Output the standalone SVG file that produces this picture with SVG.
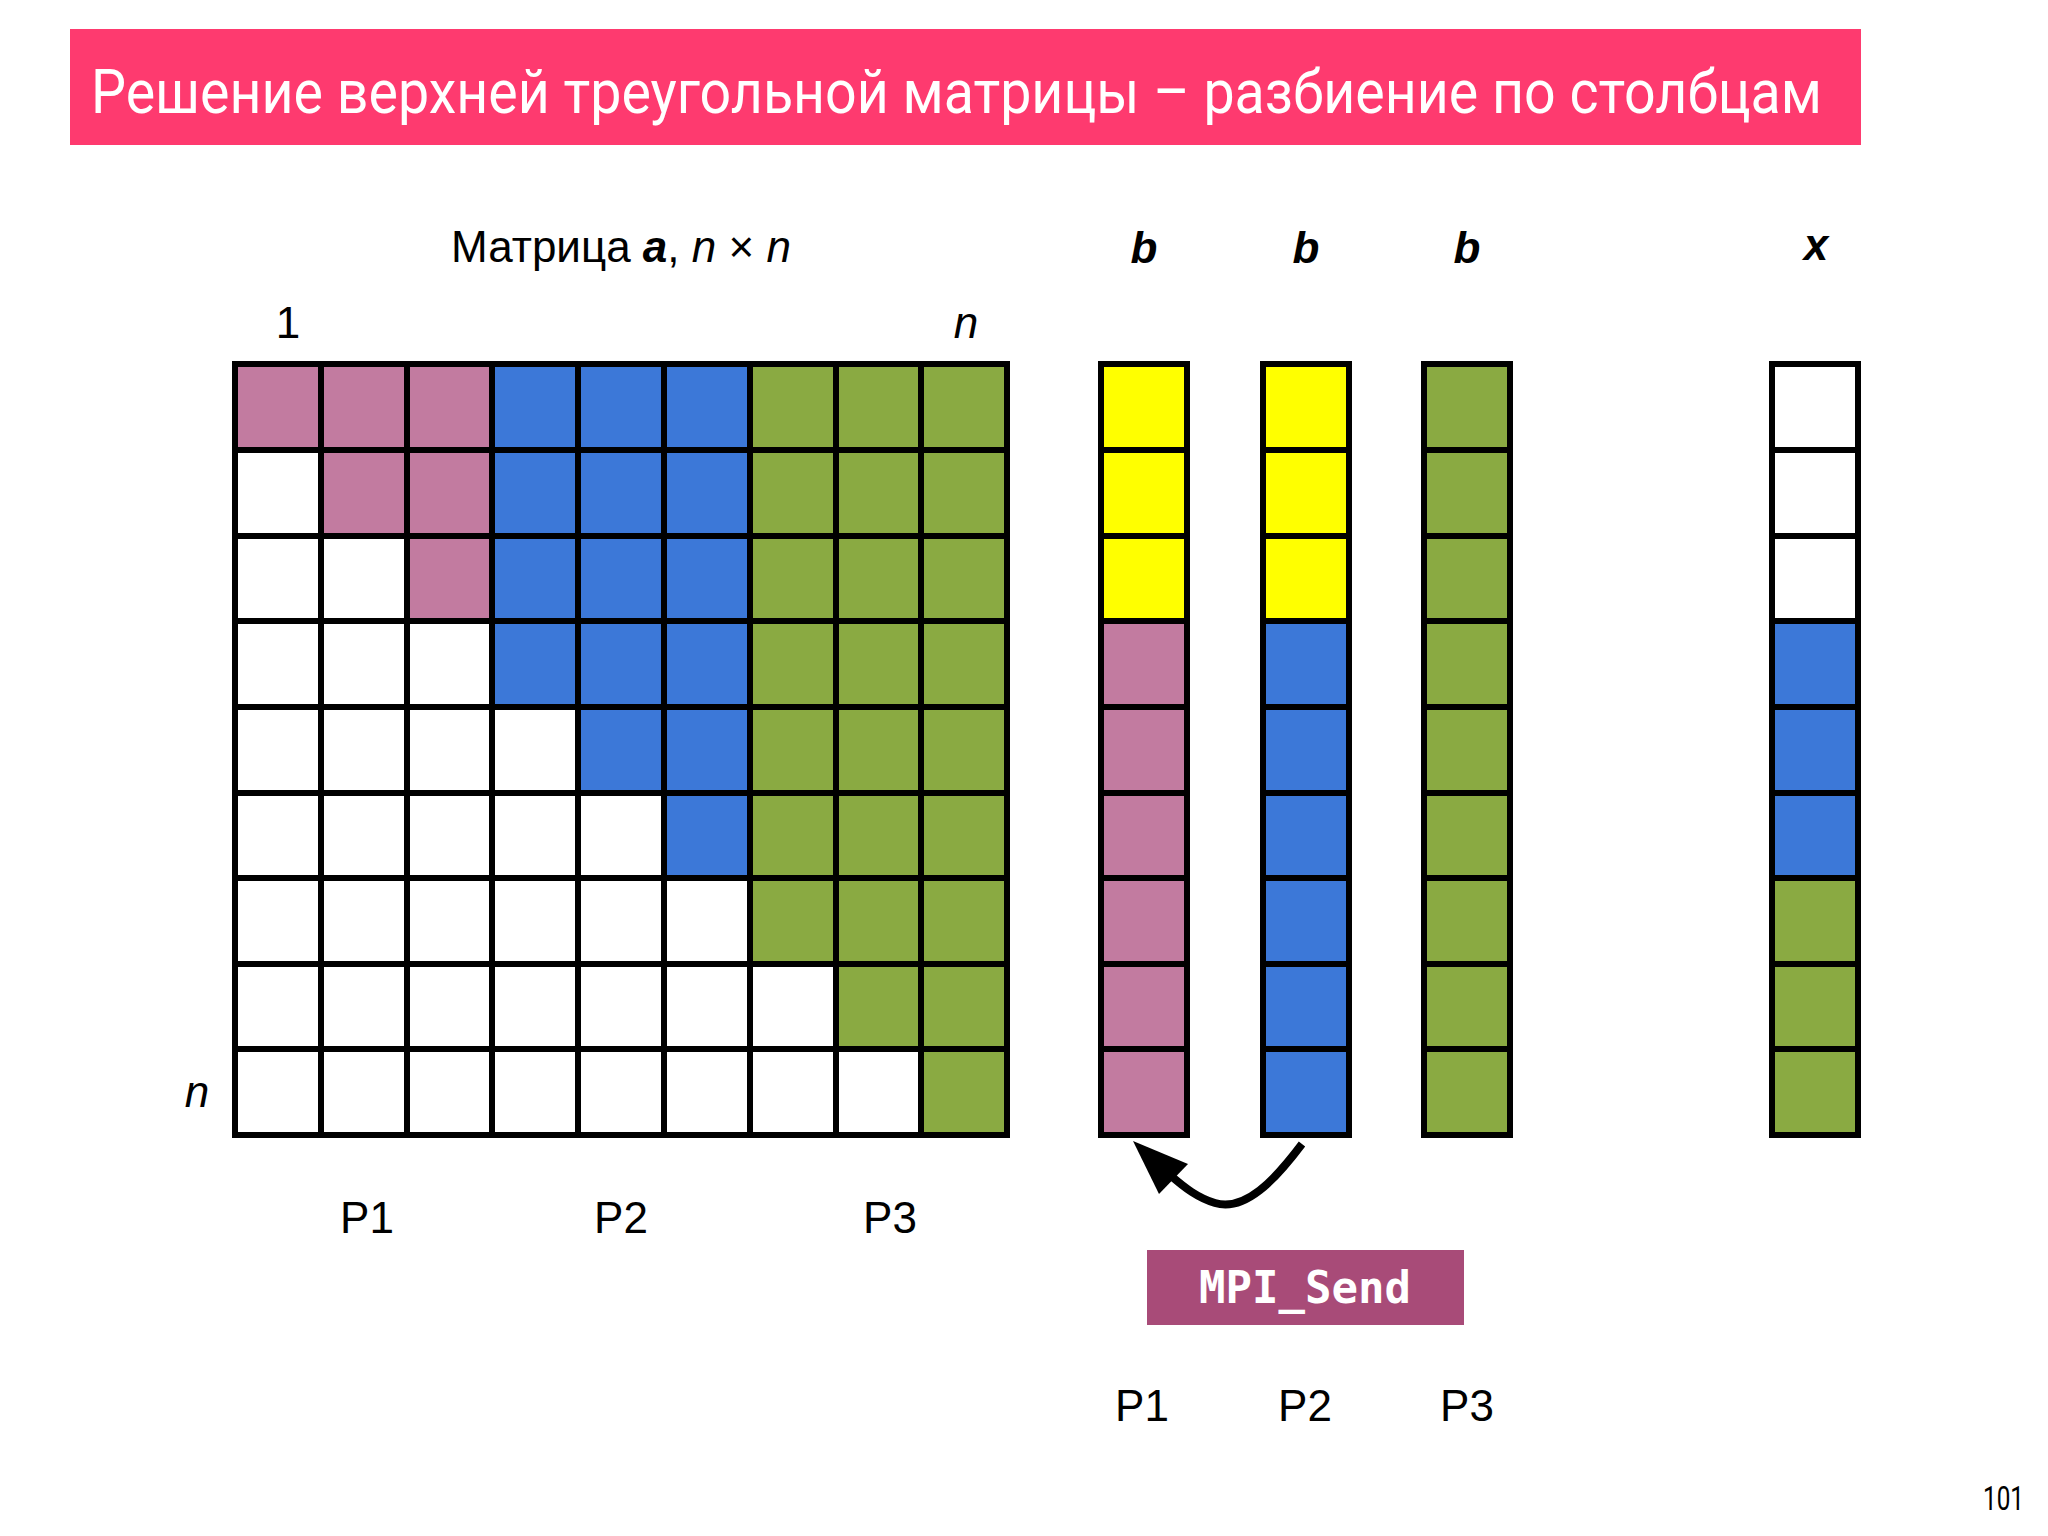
<svg xmlns="http://www.w3.org/2000/svg" width="2048" height="1536" viewBox="0 0 2048 1536">
<defs>
<style>
.lbl{font-family:"Liberation Sans",Arial,sans-serif;font-size:44px;fill:#000;text-anchor:middle}
.it{font-style:italic}
.bi{font-style:italic;font-weight:bold}
.pink{fill:#c27ba0}.blue{fill:#3c78d8}.green{fill:#8aaa42}.yellow{fill:#ffff00}.white{fill:#ffffff}
.grid{fill:none;stroke:#000;stroke-width:6;stroke-linecap:square}
</style>
</defs>
<rect width="2048" height="1536" fill="#ffffff"/>

<g id="title">
<rect x="70" y="29" width="1791" height="116" fill="#fe3a6f"/>
<text x="91" y="113" font-family="Roboto,'Noto Sans',sans-serif" font-size="62" fill="#ffffff" textLength="1731" lengthAdjust="spacingAndGlyphs">Решение верхней треугольной матрицы – разбиение по столбцам</text>
</g>

<g id="matrix">
<text class="lbl" x="621" y="262">Матрица <tspan class="bi">a</tspan>, <tspan class="it">n</tspan> × <tspan class="it">n</tspan></text>
<text class="lbl" x="288" y="338">1</text>
<text class="lbl it" x="966" y="338">n</text>
<text class="lbl it" x="197" y="1107">n</text>
<rect class="white" x="235" y="364" width="772" height="771"/>
<polygon class="pink" points="235,364 492,364 492,621 407,621 407,536 321,536 321,450 235,450"/>
<polygon class="blue" points="492,364 750,364 750,878 664,878 664,793 578,793 578,707 492,707"/>
<polygon class="green" points="750,364 1007,364 1007,1135 921,1135 921,1049 836,1049 836,964 750,964"/>
<path class="grid" d="M235,364V1135M321,364V1135M407,364V1135M492,364V1135M578,364V1135M664,364V1135M750,364V1135M836,364V1135M921,364V1135M1007,364V1135M235,364H1007M235,450H1007M235,536H1007M235,621H1007M235,707H1007M235,793H1007M235,878H1007M235,964H1007M235,1049H1007M235,1135H1007"/>
<text class="lbl" x="367" y="1233">P1</text>
<text class="lbl" x="621" y="1233">P2</text>
<text class="lbl" x="890" y="1233">P3</text>
</g>

<g id="b1">
<text class="lbl bi" x="1144" y="263">b</text>
<rect class="yellow" x="1101" y="364" width="86" height="257"/>
<rect class="pink" x="1101" y="621" width="86" height="514"/>
<path class="grid" d="M1101,364V1135M1187,364V1135M1101,364H1187M1101,450H1187M1101,536H1187M1101,621H1187M1101,707H1187M1101,793H1187M1101,878H1187M1101,964H1187M1101,1049H1187M1101,1135H1187"/>
<text class="lbl" x="1142" y="1421">P1</text>
</g>

<g id="b2">
<text class="lbl bi" x="1306" y="263">b</text>
<rect class="yellow" x="1263" y="364" width="86" height="257"/>
<rect class="blue" x="1263" y="621" width="86" height="514"/>
<path class="grid" d="M1263,364V1135M1349,364V1135M1263,364H1349M1263,450H1349M1263,536H1349M1263,621H1349M1263,707H1349M1263,793H1349M1263,878H1349M1263,964H1349M1263,1049H1349M1263,1135H1349"/>
<text class="lbl" x="1305" y="1421">P2</text>
</g>

<g id="b3">
<text class="lbl bi" x="1467" y="263">b</text>
<rect class="green" x="1424" y="364" width="86" height="771"/>
<path class="grid" d="M1424,364V1135M1510,364V1135M1424,364H1510M1424,450H1510M1424,536H1510M1424,621H1510M1424,707H1510M1424,793H1510M1424,878H1510M1424,964H1510M1424,1049H1510M1424,1135H1510"/>
<text class="lbl" x="1467" y="1421">P3</text>
</g>

<g id="x">
<text class="lbl bi" x="1816" y="260">x</text>
<rect class="white" x="1772" y="364" width="86" height="257"/>
<rect class="blue" x="1772" y="621" width="86" height="257"/>
<rect class="green" x="1772" y="878" width="86" height="257"/>
<path class="grid" d="M1772,364V1135M1858,364V1135M1772,364H1858M1772,450H1858M1772,536H1858M1772,621H1858M1772,707H1858M1772,793H1858M1772,878H1858M1772,964H1858M1772,1049H1858M1772,1135H1858"/>
</g>

<g id="connectors">
<path d="M1302,1144 C1275,1180 1245,1212 1215,1203 C1198,1198 1185,1188 1170,1175" fill="none" stroke="#000" stroke-width="8"/>
<polygon points="1133,1141 1188,1164 1159,1194" fill="#000"/>
</g>

<g id="mpi_send">
<rect x="1147" y="1250" width="317" height="75" fill="#a84b78"/>
<text x="1305" y="1303" font-family="'DejaVu Sans Mono','Liberation Mono',monospace" font-weight="bold" font-size="44" fill="#ffffff" text-anchor="middle">MPI_Send</text>
</g>

<g id="page">
<text x="1983" y="1510" font-family="Roboto,'Noto Sans',sans-serif" font-size="34" fill="#000" textLength="41" lengthAdjust="spacingAndGlyphs">101</text>
</g>
</svg>
